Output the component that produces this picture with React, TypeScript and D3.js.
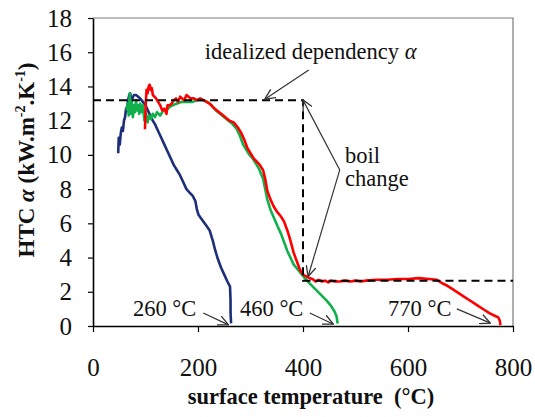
import React, { useRef, useEffect } from 'react';
import * as d3 from 'd3';

const xTicks = [0, 200, 400, 600, 800];
const yTicks = [0, 2, 4, 6, 8, 10, 12, 14, 16, 18];

// [surface temperature °C, HTC kW.m-2.K-1]
const blueSeries: [number, number][] = [
  [48, 10.1], [49, 11.0], [51, 10.6], [53, 11.3], [55, 11.6], [57, 11.4], [59, 12.0], [61, 12.2],
  [63, 12.7], [65, 12.8], [67, 13.2], [69, 13.5], [71, 13.6], [73, 13.1], [75, 13.3], [78, 13.5],
  [82, 13.5], [86, 13.4], [90, 13.3], [95, 13.1], [100, 12.9], [106, 12.5], [112, 12.1], [118, 11.8],
  [124, 11.4], [130, 11.0], [136, 10.6], [142, 10.2], [148, 9.8], [154, 9.4], [160, 9.1], [166, 8.8],
  [172, 8.4], [178, 8.0], [184, 7.8], [190, 7.6], [195, 7.3], [198, 6.8], [201, 6.5], [208, 6.2],
  [215, 5.9], [222, 5.6], [228, 5.0], [233, 4.4], [238, 3.9], [244, 3.4], [250, 3.0], [256, 2.6],
  [261, 2.3], [262, 1.5], [262, 0.8], [263, 0.15],
];

const greenSeries: [number, number][] = [
  [64, 12.6], [66, 13.0], [68, 12.3], [70, 13.6], [72, 12.4], [74, 13.1], [76, 12.2], [78, 12.9],
  [80, 12.5], [82, 13.2], [84, 12.6], [86, 12.9], [88, 12.4], [90, 13.0], [92, 12.5], [95, 12.9],
  [98, 12.0], [101, 12.4], [104, 11.9], [107, 12.3], [110, 12.1], [114, 12.4], [118, 12.2], [122, 12.5],
  [128, 12.3], [134, 12.6], [140, 12.6], [146, 12.8], [152, 12.9], [160, 13.0], [170, 13.1], [180, 13.1],
  [190, 13.1], [200, 13.2], [210, 13.2], [218, 13.1], [226, 12.9], [234, 12.6], [242, 12.4], [250, 12.2],
  [258, 12.0], [266, 11.8], [274, 11.5], [280, 11.1], [286, 10.6], [292, 10.3], [298, 10.0], [304, 9.8],
  [310, 9.5], [316, 9.2], [320, 8.9], [324, 8.6], [328, 8.0], [332, 7.4], [338, 6.8], [345, 6.3],
  [352, 5.8], [358, 5.4], [364, 4.9], [370, 4.4], [376, 4.0], [382, 3.6], [390, 3.3], [398, 3.0],
  [406, 2.7], [414, 2.45], [422, 2.2], [430, 1.95], [438, 1.7], [446, 1.45], [454, 1.15], [460, 0.85],
  [464, 0.55], [466, 0.15],
];

const redSeries: [number, number][] = [
  [99, 11.5], [100, 12.6], [101, 13.3], [102, 13.8], [104, 13.6], [106, 14.0], [108, 14.1], [110, 13.8],
  [112, 13.9], [114, 13.5], [117, 13.4], [120, 13.3], [124, 13.1], [128, 12.9], [132, 12.6], [136, 12.7],
  [140, 12.4], [142, 12.9], [146, 12.9], [150, 13.0], [154, 13.2], [158, 13.3], [162, 13.1], [166, 13.4],
  [170, 13.3], [174, 13.2], [178, 13.5], [182, 13.4], [186, 13.3], [192, 13.3], [198, 13.2], [204, 13.3],
  [210, 13.2], [216, 13.1], [222, 13.0], [228, 12.8], [236, 12.6], [244, 12.4], [252, 12.2], [260, 12.0],
  [268, 11.9], [276, 11.6], [282, 11.3], [288, 10.9], [294, 10.4], [300, 10.1], [306, 9.8], [312, 9.6],
  [318, 9.4], [324, 9.1], [328, 8.6], [332, 7.9], [338, 7.4], [344, 7.0], [350, 6.7], [358, 6.4],
  [364, 6.1], [370, 5.6], [376, 5.0], [382, 4.3], [388, 3.8], [394, 3.3], [400, 3.0], [406, 2.9],
  [412, 2.8], [418, 2.75], [424, 2.6], [430, 2.7], [436, 2.6], [442, 2.65], [448, 2.55], [454, 2.65],
  [460, 2.6], [470, 2.6], [480, 2.65], [490, 2.6], [500, 2.65], [510, 2.6], [520, 2.65], [540, 2.7],
  [560, 2.7], [580, 2.75], [600, 2.75], [620, 2.8], [640, 2.75], [655, 2.7], [665, 2.5], [675, 2.35],
  [685, 2.15], [695, 1.95], [705, 1.75], [715, 1.55], [725, 1.35], [735, 1.15], [745, 0.95], [755, 0.75],
  [765, 0.6], [772, 0.5], [775, 0.3], [776, 0.05],
];

// idealized dependency (dashed)
const idealSeries: [number, number][] = [[0, 13.2], [400, 13.2], [400, 2.65], [800, 2.65]];

const seriesList = [
  { data: blueSeries, color: '#1c2f78' },
  { data: greenSeries, color: '#12b04c' },
  { data: redSeries, color: '#ff0000' },
];

const FONT = 'Liberation Serif, serif';

const App = () => {
  const svgRef = useRef<SVGSVGElement>(null);

  useEffect(() => {
    const svgWidth = 535;
    const svgHeight = 417;
    const margin = { top: 18, right: 22, bottom: 91, left: 93 };
    const width = svgWidth - margin.left - margin.right;
    const height = svgHeight - margin.top - margin.bottom;

    const svg = d3.select(svgRef.current);
    svg.selectAll('*').remove();
    svg.style('font-family', FONT);

    const defs = svg.append('defs');
    defs.append('marker')
      .attr('id', 'openArrow')
      .attr('viewBox', '0 0 10 10')
      .attr('refX', 9)
      .attr('refY', 5)
      .attr('markerWidth', 11)
      .attr('markerHeight', 11)
      .attr('markerUnits', 'userSpaceOnUse')
      .attr('orient', 'auto')
      .append('path')
      .attr('d', 'M0,0.5 L9.5,5 L0,9.5')
      .attr('fill', 'none')
      .attr('stroke', '#333')
      .attr('stroke-width', 1.2);

    const g = svg.append('g').attr('transform', `translate(${margin.left},${margin.top})`);

    const x = d3.scaleLinear().domain([0, 800]).range([0, width]);
    const y = d3.scaleLinear().domain([0, 18]).range([height, 0]);

    // frame (top / right)
    g.append('path')
      .attr('d', `M0,0 H${width} V${height}`)
      .attr('fill', 'none')
      .attr('stroke', '#7a7a7a')
      .attr('stroke-width', 1.2);

    const yAxis = g.append('g')
      .call(d3.axisLeft(y).tickValues(yTicks).tickSize(5).tickSizeOuter(0).tickPadding(16));
    const xAxis = g.append('g')
      .attr('transform', `translate(0,${height})`)
      .call(d3.axisBottom(x).tickValues(xTicks).tickSize(6).tickSizeOuter(0).tickPadding(26));

    [xAxis, yAxis].forEach((ax) => {
      ax.attr('font-family', null).attr('font-size', null);
      ax.select('.domain').attr('stroke', '#000').attr('stroke-width', 1.6);
      ax.selectAll('.tick line').attr('stroke', '#000').attr('stroke-width', 1.2);
      ax.selectAll('text')
        .style('font-family', FONT)
        .style('font-size', '25px')
        .attr('fill', '#111');
    });

    const line = d3.line<[number, number]>()
      .x((d) => x(d[0]))
      .y((d) => y(d[1]));

    seriesList.forEach((s) => {
      g.append('path')
        .datum(s.data)
        .attr('fill', 'none')
        .attr('stroke', s.color)
        .attr('stroke-width', 2.6)
        .attr('stroke-linejoin', 'round')
        .attr('d', line);
    });

    g.append('path')
      .datum(idealSeries)
      .attr('fill', 'none')
      .attr('stroke', '#000')
      .attr('stroke-width', 2)
      .attr('stroke-dasharray', '8,5')
      .attr('d', line);

    // annotations
    const addText = (t: number, v: number, str: string, size = 22.5) =>
      g.append('text')
        .attr('x', x(t))
        .attr('y', y(v))
        .style('font-family', FONT)
        .style('font-size', `${size}px`)
        .attr('fill', '#111')
        .text(str);

    const arrow = (t0: number, v0: number, t1: number, v1: number) =>
      g.append('line')
        .attr('x1', x(t0)).attr('y1', y(v0))
        .attr('x2', x(t1)).attr('y2', y(v1))
        .attr('stroke', '#333')
        .attr('stroke-width', 1.2)
        .attr('marker-end', 'url(#openArrow)');

    const ideal = addText(213, 15.6, 'idealized dependency ');
    ideal.append('tspan').style('font-style', 'italic').text('α');
    arrow(411, 14.96, 328, 13.27);

    addText(480, 9.55, 'boil');
    addText(480, 8.2, 'change');
    arrow(470, 9.12, 400, 13.2);
    arrow(470, 9.12, 410, 2.92);

    addText(76, 0.58, '260 °C');
    arrow(210, 0.76, 257, 0.08);
    addText(280, 0.58, '460 °C');
    arrow(413, 0.76, 457, 0.12);
    addText(562, 0.58, '770 °C');
    arrow(693, 1.0, 756, 0.18);

    // axis titles
    svg.append('text')
      .attr('x', 311)
      .attr('y', 404)
      .attr('text-anchor', 'middle')
      .style('font-family', FONT)
      .style('font-weight', 'bold')
      .style('font-size', '22.5px')
      .style('white-space', 'pre')
      .attr('fill', '#111')
      .text('surface temperature  (°C)');

    const yt = svg.append('text')
      .attr('transform', 'translate(34,160) rotate(-90)')
      .attr('text-anchor', 'middle')
      .style('font-family', FONT)
      .style('font-weight', 'bold')
      .style('font-size', '23px')
      .attr('fill', '#111');
    yt.append('tspan').text('HTC ');
    yt.append('tspan').style('font-style', 'italic').text('α');
    yt.append('tspan').text(' (kW.m');
    yt.append('tspan').style('font-size', '14px').attr('dy', -9).text('-2');
    yt.append('tspan').attr('dy', 9).text('.K');
    yt.append('tspan').style('font-size', '14px').attr('dy', -9).text('-1');
    yt.append('tspan').attr('dy', 9).text(')');
  }, []);

  return (
    <svg
      ref={svgRef}
      width={535}
      height={417}
      style={{ position: 'absolute', left: 0, top: 0, background: '#fff' }}
    />
  );
};

export default App;
